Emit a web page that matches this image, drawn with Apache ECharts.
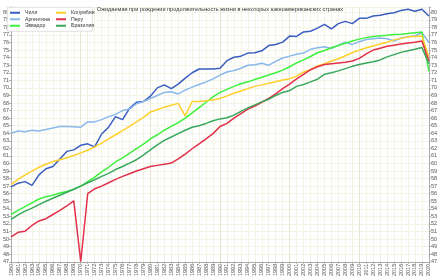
<!DOCTYPE html>
<html><head><meta charset="utf-8">
<script src="https://cdn.jsdelivr.net/npm/echarts@6/dist/echarts.min.js"></script>
<style>html,body{margin:0;padding:0;background:#fff}#c{width:440px;height:279px}</style>
</head><body><div id="c"></div>
<script>
const years = [];
for (let y = 1960; y <= 2020; y++) years.push(String(y));

const chile = [56.9,57.4,57.6,57.1,58.5,59.3,59.6,60.6,61.6,61.8,
 62.4,62.6,62.2,63.9,64.8,66.2,65.8,67.3,68.1,68.2,
 68.9,70.0,70.4,69.9,70.5,71.3,72.0,72.5,72.5,72.5,
 72.6,73.6,74.05,74.2,74.6,74.65,74.9,75.6,75.75,76.05,
 76.85,76.8,77.4,77.5,77.9,78.4,77.8,78.5,78.8,78.5,
 79.2,79.2,79.5,79.6,79.8,79.95,80.25,80.4,80.15,80.4,
 79.5];
const argentina = [64.0,64.3,64.2,64.4,64.3,64.5,64.7,64.9,64.9,64.85,
 64.8,65.5,65.5,65.8,66.2,66.5,67.0,67.2,67.9,68.2,
 68.6,69.0,69.4,69.5,69.2,69.7,70.1,70.45,70.8,71.2,
 71.7,72.1,72.3,72.6,73.0,73.05,73.25,73.0,73.5,73.95,
 74.2,74.45,74.6,75.1,75.3,75.45,75.2,75.65,76.05,75.75,
 76.1,76.4,76.5,76.6,76.5,76.2,76.6,76.75,76.9,77.3,
 76.0];
const ecuador = [53.25,53.8,54.3,54.8,55.3,55.6,55.8,56.1,56.3,56.6,
 57.0,57.6,58.2,58.9,59.5,60.2,60.75,61.35,61.95,62.55,
 63.25,63.8,64.4,64.9,65.4,66.0,66.7,67.4,68.1,68.8,
 69.4,69.8,70.2,70.55,70.8,71.1,71.4,71.7,72.0,72.35,
 72.8,73.3,73.7,74.15,74.65,74.95,75.3,75.6,75.9,76.2,
 76.45,76.65,76.8,76.9,76.95,77.05,77.1,77.2,77.3,77.4,
 72.2];
const colombia = [57.2,57.9,58.5,59.0,59.5,59.9,60.25,60.5,60.75,61.05,
 61.4,61.75,62.2,62.7,63.25,63.8,64.35,64.9,65.5,66.1,
 66.8,67.1,67.45,67.7,67.95,66.3,68.2,68.2,68.3,68.4,
 68.6,68.95,69.3,69.6,69.9,70.2,70.4,70.6,70.8,71.05,
 71.2,71.55,72.1,72.4,72.9,73.2,73.55,73.85,74.25,74.65,
 75.0,75.3,75.55,75.8,76.05,76.35,76.55,76.75,76.8,76.85,
 74.1];
const peru = [50.3,50.9,51.05,51.8,52.4,52.7,53.25,53.8,54.4,55.05,
 47.0,56.0,56.65,57.0,57.45,57.9,58.3,58.65,59.0,59.3,
 59.6,59.75,59.9,60.05,60.6,61.25,61.95,62.6,63.25,63.95,
 64.9,65.3,66.0,66.6,67.2,67.6,68.1,68.6,69.2,69.9,
 70.5,71.2,71.8,72.4,72.8,73.1,73.2,73.3,73.4,73.55,
 73.9,74.5,75.0,75.25,75.5,75.65,75.8,75.95,76.05,76.2,
 73.55];
const brazil = [52.6,53.2,53.7,54.1,54.55,55.0,55.4,55.8,56.2,56.6,
 57.0,57.45,57.85,58.3,58.7,59.2,59.6,60.05,60.5,61.1,
 61.8,62.45,63.05,63.5,63.95,64.4,64.8,65.0,65.3,65.65,
 65.9,66.05,66.4,66.9,67.35,67.75,68.15,68.5,69.0,69.4,
 69.65,70.2,70.45,70.8,71.15,71.8,72.0,72.25,72.55,72.85,
 73.1,73.3,73.45,73.7,74.1,74.4,74.7,74.9,75.1,75.35,
 73.2];

const titleText = 'Ожидаемая при рождении продолжительность жизни в некоторых южноамериканских странах';
const names = ['Чили','Аргентина','Эквадор','Колумбия','Перу','Бразилия'];
const colors = ['#3a5dc0','#8ab8ea','#3ef03e','#ffd02c','#e2304a','#38a85c'];
const values = [chile, argentina, ecuador, colombia, peru, brazil];

const font = 'Liberation Sans';
const yMin = 47, yMax = 80.7;
const gridColors = ['#e6e6d0'].concat(Array(9).fill('#f3f3e6'));

const chart = echarts.init(document.getElementById('c'), null, {renderer: 'canvas'});
const yAxisBase = {
  type: 'value', min: yMin, max: yMax, interval: 1,
  axisLine: {show: true, lineStyle: {color: '#aaa', width: 1}},
  axisTick: {show: true, length: 2, lineStyle: {color: '#aaa'}},
  axisLabel: {fontSize: 5.5, color: '#555', fontFamily: font, margin: 2,
    formatter: v => Number.isInteger(v) ? String(v) : ''},
};
chart.setOption({
  animation: false,
  textStyle: {fontFamily: font},
  title: {text: titleText, left: 'center', top: 1.5,
    textStyle: {fontSize: 5.6, fontWeight: 'normal', color: '#333', fontFamily: font}},
  graphic: [{type: 'rect', left: 7, top: 7, z: 5,
    shape: {width: 85, height: 24},
    style: {fill: '#fff', stroke: '#ccc', lineWidth: 0.6}}],
  legend: [
    {data: names.slice(0,3), orient: 'vertical', left: 10, top: 9.5, padding: 0, itemGap: 0,
     itemWidth: 10, itemHeight: 2, icon: 'rect', z: 6,
     textStyle: {fontSize: 5.2, color: '#333', lineHeight: 6.5, fontFamily: font}},
    {data: names.slice(3), orient: 'vertical', left: 56, top: 9.5, padding: 0, itemGap: 0,
     itemWidth: 10, itemHeight: 2, icon: 'rect', z: 6,
     textStyle: {fontSize: 5.2, color: '#333', lineHeight: 6.5, fontFamily: font}}
  ],
  grid: {left: 9, right: 7, top: 7, bottom: 14.5, containLabel: false},
  xAxis: {type: 'category', data: years, boundaryGap: false,
    axisLine: {show: true, lineStyle: {color: '#aaa'}},
    axisTick: {show: true, length: 2, interval: 0, lineStyle: {color: '#aaa'}},
    axisLabel: {rotate: 90, fontSize: 5.5, color: '#555', interval: 0, margin: 2, fontFamily: font},
    splitLine: {show: true, interval: 0, lineStyle: {color: gridColors, width: 1}}},
  yAxis: [
    Object.assign({}, yAxisBase, {position: 'left',
      splitLine: {show: true, lineStyle: {color: '#f3f3e6', width: 1}}}),
    Object.assign({}, yAxisBase, {position: 'right', splitLine: {show: false}})
  ],
  series: names.map((n, i) => ({
    name: n, type: 'line', data: values[i], yAxisIndex: 0,
    showSymbol: false, symbol: 'none', color: colors[i],
    lineStyle: {width: 1.5, color: colors[i]}, z: 2
  }))
});
</script></body></html>
